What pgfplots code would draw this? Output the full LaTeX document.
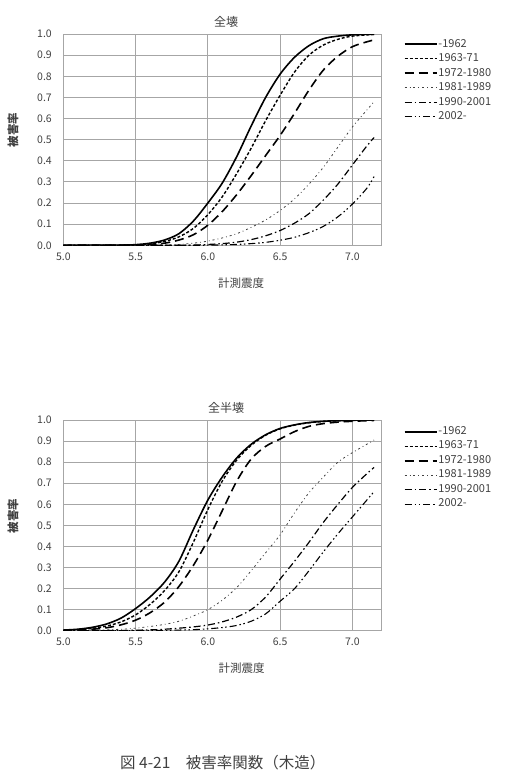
\documentclass[border=0pt]{standalone}
\usepackage{pgfplots}
\pgfplotsset{compat=1.18}
\usepackage{fontspec}
\setmainfont{Noto Sans CJK JP}
\definecolor{gridc}{HTML}{A6A6A6}
\definecolor{txt}{HTML}{404040}
\pgfplotsset{
  base/.style={
    scale only axis, width=318pt,
    xmin=5, xmax=7.2, ymin=0, ymax=1,
    xtick={5,5.5,6,6.5,7}, ytick={0,0.1,0.2,0.3,0.4,0.5,0.6,0.7,0.8,0.9,1},
    /pgf/number format/assume math mode=true,
    /pgf/number format/.cd, fixed, fixed zerofill, precision=1, /pgfplots/.cd,
    tick style={draw=none},
    grid=major, grid style={gridc, line width=0.9pt},
    axis line style={gridc, line width=1pt},
    ticklabel style={font=\fontsize{10.5}{12}\selectfont, text=txt},
    yticklabel style={xshift=-8pt},
    xticklabel style={yshift=-4pt},
    title style={font=\fontsize{12}{14}\selectfont, text=txt, anchor=center},
    xlabel style={font=\fontsize{11.5}{13}\selectfont, text=txt, anchor=center},
    ylabel style={font=\fontsize{11.5}{13}\selectfont\bfseries, text=txt, anchor=center},
    legend style={draw=none, fill=none, inner sep=0pt, outer sep=0pt, anchor=north west,
      row sep=5pt, font=\fontsize{11}{12}\selectfont,
      nodes={inner sep=0pt, inner xsep=1pt, text height=7.5pt, text depth=2pt, text=txt}},
    legend cell align=left,
    legend image code/.code={\draw[##1] (0pt,0pt) -- (32pt,0pt);},
  },
  s1/.style={black, line width=1.6pt, smooth},
  s2/.style={black, line width=1.4pt, dash pattern=on 3pt off 2pt, smooth},
  s3/.style={black, line width=1.6pt, dash pattern=on 9pt off 5pt, smooth},
  s4/.style={black!75, line width=0.8pt, dash pattern=on 2pt off 3pt on 0.8pt off 3pt, smooth},
  s5/.style={black, line width=1.2pt, dash pattern=on 7pt off 3pt on 1.5pt off 3pt, smooth},
  s6/.style={black, line width=1.1pt, dash pattern=on 7pt off 3pt on 1.5pt off 2.5pt on 1.5pt off 3pt, smooth},
}
\begin{document}
\begin{tikzpicture}
\useasboundingbox (0pt,0pt) rectangle (510pt,-772pt);
% ---------------- top: 全壊
\begin{axis}[base, at={(63.3pt,-245.3pt)}, anchor=south west, height=211.3pt,
  title={全壊}, title style={at={(0.512,1.030)}},
  xlabel={計測震度}, xlabel style={at={(0.559,-0.178)}},
  ylabel={被害率}, ylabel style={at={(-0.158,0.546)}},
  legend style={at={(1.071,0.974)}}]
\addplot[s1] coordinates {(5.0,0) (5.2,0.0003) (5.4,0.001) (5.5,0.003) (5.6,0.01) (5.7,0.025) (5.8,0.055) (5.9,0.115) (6.0,0.20) (6.1,0.295) (6.2,0.42) (6.3,0.565) (6.4,0.70) (6.5,0.81) (6.6,0.89) (6.7,0.945) (6.8,0.978) (6.9,0.99) (7.0,0.996) (7.15,0.999)};
\addlegendentry{-1962}
\addplot[s2] coordinates {(5.0,0) (5.2,0.0002) (5.4,0.001) (5.5,0.002) (5.6,0.007) (5.7,0.018) (5.8,0.04) (5.9,0.08) (6.0,0.145) (6.1,0.23) (6.2,0.34) (6.3,0.46) (6.4,0.59) (6.5,0.71) (6.6,0.82) (6.7,0.90) (6.8,0.948) (6.9,0.975) (7.0,0.99) (7.15,0.998)};
\addlegendentry{1963-71}
\addplot[s3] coordinates {(5.0,0) (5.3,0.0003) (5.5,0.001) (5.6,0.004) (5.7,0.01) (5.8,0.025) (5.9,0.05) (6.0,0.095) (6.1,0.16) (6.2,0.24) (6.3,0.33) (6.4,0.425) (6.5,0.52) (6.6,0.625) (6.7,0.735) (6.8,0.83) (6.9,0.895) (7.0,0.94) (7.1,0.963) (7.15,0.972)};
\addlegendentry{1972-1980}
\addplot[s4] coordinates {(5.0,0) (5.5,0.0003) (5.7,0.001) (5.8,0.004) (5.9,0.01) (6.0,0.02) (6.1,0.035) (6.2,0.055) (6.3,0.085) (6.4,0.12) (6.5,0.165) (6.6,0.22) (6.7,0.29) (6.8,0.37) (6.9,0.465) (7.0,0.56) (7.1,0.64) (7.15,0.68)};
\addlegendentry{1981-1989}
\addplot[s5] coordinates {(5.0,0) (5.7,0.0002) (5.9,0.001) (6.0,0.004) (6.1,0.008) (6.2,0.015) (6.3,0.027) (6.4,0.045) (6.5,0.07) (6.6,0.105) (6.7,0.15) (6.8,0.215) (6.9,0.29) (7.0,0.38) (7.1,0.47) (7.15,0.51)};
\addlegendentry{1990-2001}
\addplot[s6] coordinates {(5.0,0) (5.9,0.0003) (6.0,0.001) (6.1,0.002) (6.2,0.004) (6.3,0.008) (6.4,0.014) (6.5,0.024) (6.6,0.038) (6.7,0.06) (6.8,0.09) (6.9,0.135) (7.0,0.195) (7.1,0.27) (7.15,0.325)};
\addlegendentry{2002-}
\end{axis}
% ---------------- bottom: 全半壊
\begin{axis}[base, at={(63.3pt,-630.7pt)}, anchor=south west, height=210.7pt,
  title={全半壊}, title style={at={(0.512,1.031)}},
  xlabel={計測震度}, xlabel style={at={(0.561,-0.178)}},
  ylabel={被害率}, ylabel style={at={(-0.158,0.545)}},
  legend style={at={(1.071,0.967)}}]
\addplot[s1] coordinates {(5.0,0.003) (5.1,0.007) (5.2,0.016) (5.3,0.032) (5.4,0.06) (5.5,0.105) (5.6,0.16) (5.7,0.23) (5.8,0.33) (5.9,0.48) (6.0,0.62) (6.1,0.73) (6.2,0.82) (6.3,0.885) (6.4,0.93) (6.5,0.96) (6.6,0.977) (6.7,0.988) (6.8,0.994) (6.9,0.997) (7.0,0.999) (7.15,1.0)};
\addlegendentry{-1962}
\addplot[s2] coordinates {(5.0,0.002) (5.1,0.005) (5.2,0.011) (5.3,0.022) (5.4,0.042) (5.5,0.075) (5.6,0.125) (5.7,0.19) (5.8,0.28) (5.9,0.42) (6.0,0.575) (6.1,0.71) (6.2,0.81) (6.3,0.88) (6.4,0.928) (6.5,0.958) (6.6,0.976) (6.7,0.987) (6.8,0.993) (6.9,0.996) (7.0,0.998) (7.15,1.0)};
\addlegendentry{1963-71}
\addplot[s3] coordinates {(5.0,0.001) (5.1,0.003) (5.2,0.007) (5.3,0.014) (5.4,0.028) (5.5,0.05) (5.6,0.085) (5.7,0.135) (5.8,0.21) (5.9,0.31) (6.0,0.43) (6.1,0.57) (6.2,0.71) (6.3,0.815) (6.4,0.875) (6.5,0.91) (6.6,0.945) (6.7,0.97) (6.8,0.983) (6.9,0.99) (7.0,0.994) (7.15,0.998)};
\addlegendentry{1972-1980}
\addplot[s4] coordinates {(5.0,0.0005) (5.2,0.002) (5.4,0.007) (5.5,0.012) (5.6,0.02) (5.7,0.03) (5.8,0.045) (5.9,0.07) (6.0,0.10) (6.1,0.145) (6.2,0.205) (6.3,0.285) (6.4,0.37) (6.5,0.455) (6.6,0.56) (6.7,0.655) (6.8,0.73) (6.9,0.80) (7.0,0.845) (7.1,0.885) (7.15,0.905)};
\addlegendentry{1981-1989}
\addplot[s5] coordinates {(5.0,0) (5.4,0.001) (5.6,0.004) (5.7,0.007) (5.8,0.012) (5.9,0.018) (6.0,0.027) (6.1,0.042) (6.2,0.065) (6.3,0.10) (6.4,0.16) (6.5,0.245) (6.6,0.33) (6.7,0.42) (6.8,0.515) (6.9,0.60) (7.0,0.68) (7.1,0.745) (7.15,0.775)};
\addlegendentry{1990-2001}
\addplot[s6] coordinates {(5.0,0) (5.6,0.001) (5.8,0.003) (5.9,0.005) (6.0,0.009) (6.1,0.015) (6.2,0.025) (6.3,0.045) (6.4,0.08) (6.5,0.14) (6.6,0.20) (6.7,0.285) (6.8,0.375) (6.9,0.46) (7.0,0.54) (7.1,0.62) (7.15,0.66)};
\addlegendentry{2002-}
\end{axis}
\node[anchor=west, font=\fontsize{15.5}{17}\selectfont, text=txt, inner sep=0pt] at (120pt,-763pt) {図 4-21　被害率関数（木造）};
\end{tikzpicture}
\end{document}
